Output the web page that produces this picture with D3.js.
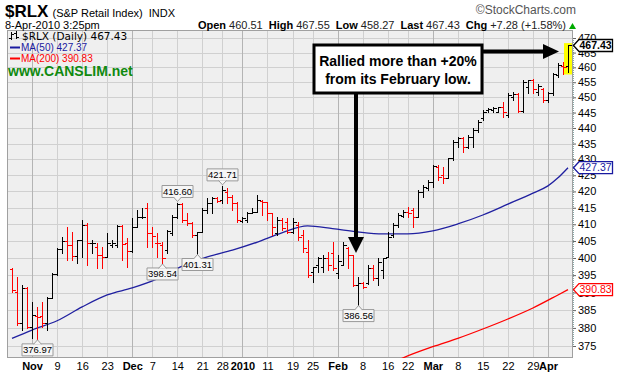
<!DOCTYPE html>
<html>
<head>
<meta charset="utf-8">
<script src="https://cdn.jsdelivr.net/npm/d3@7"></script>
<style>
  body { margin: 0; background: #fff; overflow: hidden; }
</style>
</head>
<body>
<div id="chart"></div>
<script>
// $RLX daily OHLC, 27-Oct-2009 .. 8-Apr-2010
const dates = [
  "2009-10-27","2009-10-28","2009-10-29","2009-10-30",
  "2009-11-02","2009-11-03","2009-11-04","2009-11-05","2009-11-06",
  "2009-11-09","2009-11-10","2009-11-11","2009-11-12","2009-11-13",
  "2009-11-16","2009-11-17","2009-11-18","2009-11-19","2009-11-20",
  "2009-11-23","2009-11-24","2009-11-25","2009-11-27","2009-11-30",
  "2009-12-01","2009-12-02","2009-12-03","2009-12-04",
  "2009-12-07","2009-12-08","2009-12-09","2009-12-10","2009-12-11",
  "2009-12-14","2009-12-15","2009-12-16","2009-12-17","2009-12-18",
  "2009-12-21","2009-12-22","2009-12-23","2009-12-24",
  "2009-12-28","2009-12-29","2009-12-30","2009-12-31",
  "2010-01-04","2010-01-05","2010-01-06","2010-01-07","2010-01-08",
  "2010-01-11","2010-01-12","2010-01-13","2010-01-14","2010-01-15",
  "2010-01-19","2010-01-20","2010-01-21","2010-01-22",
  "2010-01-25","2010-01-26","2010-01-27","2010-01-28","2010-01-29",
  "2010-02-01","2010-02-02","2010-02-03","2010-02-04","2010-02-05",
  "2010-02-08","2010-02-09","2010-02-10","2010-02-11","2010-02-12",
  "2010-02-16","2010-02-17","2010-02-18","2010-02-19",
  "2010-02-22","2010-02-23","2010-02-24","2010-02-25","2010-02-26",
  "2010-03-01","2010-03-02","2010-03-03","2010-03-04","2010-03-05",
  "2010-03-08","2010-03-09","2010-03-10","2010-03-11","2010-03-12",
  "2010-03-15","2010-03-16","2010-03-17","2010-03-18","2010-03-19",
  "2010-03-22","2010-03-23","2010-03-24","2010-03-25","2010-03-26",
  "2010-03-29","2010-03-30","2010-03-31",
  "2010-04-01","2010-04-05","2010-04-06","2010-04-07","2010-04-08"
]

const opens = [
  396.7, 390.2, 381.3, 391.2,
  380.3, 383.4, 383.3, 381.3, 388.5,
  395.3, 402.7, 405.0, 403.8, 400.6,
  405.3, 409.8, 404.3, 403.3, 400.9,
  400.4, 403.8, 403.8, 409.5, 404.3,
  402.1, 409.3, 412.1, 414.8,
  407.3, 404.3, 403.8, 402.3, 407.4,
  412.3, 416.1, 411.3, 410.4, 406.8,
  407.8, 414.3, 416.3, 417.9,
  417.4, 419.9, 418.4, 416.3,
  411.0, 411.3, 413.5, 413.8, 417.1,
  416.7, 413.3, 407.3, 411.3, 410.8,
  407.8, 409.8, 406.8, 401.8,
  396.0, 397.9, 397.5, 399.9, 401.4,
  395.5, 397.9, 402.9, 400.9, 392.2,
  392.6, 392.7, 397.0, 394.2, 396.5,
  400.4, 406.8, 409.8, 412.5,
  413.8, 414.3, 412.3, 419.9, 421.0,
  422.8, 427.7, 425.1, 424.1, 430.3,
  435.6, 436.7, 434.0, 437.0, 439.4,
  443.1, 445.8, 445.8, 445.3, 446.9,
  444.2, 450.1, 451.1, 445.6, 453.4,
  455.6, 451.8, 452.9,
  449.1, 451.3, 457.4, 460.5, 460.51
]

const highs = [
  397.0, 394.6, 392.2, 391.6,
  387.4, 386.0, 387.4, 388.8, 395.5,
  403.0, 406.3, 409.3, 407.8, 405.3,
  411.3, 410.5, 405.3, 404.3, 403.3,
  407.3, 405.3, 409.8, 409.8, 405.8,
  411.8, 414.3, 414.8, 416.3,
  409.3, 407.3, 404.8, 408.3, 412.8,
  416.60, 416.4, 413.4, 410.7, 407.8,
  414.8, 417.9, 418.4, 418.4,
  421.71, 421.0, 418.9, 416.8,
  412.3, 413.8, 414.8, 418.9, 417.4,
  416.8, 413.5, 412.3, 411.8, 411.8,
  411.8, 410.8, 408.3, 405.3,
  397.5, 400.4, 400.9, 401.8, 404.8,
  401.0, 404.8, 403.3, 401.0, 394.6,
  393.0, 397.9, 397.9, 399.9, 400.0,
  407.8, 410.3, 413.3, 414.3,
  415.3, 414.8, 420.4, 422.0, 423.5,
  428.2, 428.2, 427.7, 430.5, 436.1,
  437.2, 437.2, 437.7, 439.9, 442.6,
  445.8, 446.4, 446.9, 446.9, 448.6,
  451.3, 451.8, 451.3, 455.8, 455.8,
  456.1, 454.5, 453.2,
  451.8, 458.0, 461.5, 461.9, 467.55
]

const lows = [
  390.2, 380.8, 379.4, 379.9,
  377.1, 376.97, 380.3, 379.4, 388.3,
  395.0, 401.4, 399.4, 399.4, 398.4,
  400.4, 397.9, 401.4, 397.0, 397.0,
  400.4, 403.3, 403.3, 399.4, 397.3,
  401.8, 409.3, 411.8, 403.3,
  403.3, 400.4, 398.54, 401.4, 406.8,
  411.9, 410.8, 409.8, 406.3, 401.31,
  407.8, 413.3, 413.3, 416.8,
  416.3, 416.3, 414.3, 410.8,
  410.7, 410.8, 413.3, 413.8, 412.8,
  411.3, 406.8, 406.8, 408.3, 407.3,
  407.3, 405.3, 401.8, 394.6,
  393.1, 396.0, 396.0, 396.5, 396.5,
  394.3, 397.8, 397.0, 391.9, 386.56,
  391.3, 392.4, 393.6, 392.2, 394.2,
  400.4, 406.3, 409.3, 412.3,
  412.3, 409.3, 412.3, 418.4, 420.4,
  421.5, 423.5, 422.5, 424.1, 429.8,
  434.0, 432.4, 433.5, 434.0, 438.8,
  442.6, 445.3, 445.3, 445.3, 443.7,
  443.7, 449.1, 445.3, 445.3, 451.3,
  451.3, 450.8, 448.5,
  448.5, 450.8, 456.9, 457.6, 458.27
]

const closes = [
  390.8, 381.4, 391.2, 380.3,
  383.6, 383.1, 381.3, 388.5, 395.2,
  402.7, 405.0, 403.8, 400.6, 405.2,
  409.8, 404.3, 404.5, 400.9, 400.4,
  404.3, 404.5, 409.5, 404.0, 402.1,
  409.3, 412.1, 412.2, 407.3,
  406.5, 404.3, 400.0, 408.0, 412.3,
  416.1, 411.3, 410.3, 406.8, 407.8,
  414.3, 416.3, 417.9, 417.2,
  420.4, 418.4, 416.3, 411.3,
  411.9, 413.3, 413.8, 417.4, 416.7,
  413.3, 409.3, 411.3, 408.8, 407.8,
  410.8, 406.3, 402.8, 395.0,
  397.5, 399.9, 400.1, 397.9, 397.0,
  399.0, 403.8, 400.9, 392.1, 392.6,
  391.7, 397.0, 394.2, 398.8, 399.9,
  406.3, 409.8, 412.8, 413.8,
  413.5, 412.3, 419.9, 421.5, 423.0,
  428.0, 424.6, 424.3, 430.3, 435.6,
  436.7, 434.0, 437.2, 439.4, 442.0,
  445.3, 446.1, 446.4, 446.7, 445.3,
  450.8, 451.1, 445.6, 455.2, 455.6,
  452.8, 453.7, 449.1,
  451.3, 457.7, 460.9, 460.15, 467.43
]

// moving averages, read at weekly points
const ma50Dates = ["2009-10-27","2009-11-02","2009-11-09","2009-11-16","2009-11-23","2009-12-01",
  "2009-12-08","2009-12-15","2009-12-22","2009-12-30","2010-01-07","2010-01-14","2010-01-22",
  "2010-01-29","2010-02-05","2010-02-12","2010-02-22","2010-03-01","2010-03-08","2010-03-15",
  "2010-03-22","2010-03-29","2010-04-01","2010-04-06","2010-04-08"]
const ma50Values = [377.1, 379.4, 382.0, 385.9, 389.3, 391.3,
  393.9, 397.6, 400.3, 402.3, 404.7, 407.5, 409.5,
  408.7, 407.7, 407.1, 407.1, 408.0, 410.1, 412.8,
  416.1, 419.5, 421.7, 424.2, 427.37]

const ma200Dates = ["2010-02-12","2010-02-19","2010-03-01","2010-03-08","2010-03-15",
  "2010-03-22","2010-03-29","2010-04-06","2010-04-08"]
const ma200Values = [369.1, 371.7, 374.8, 377.1, 379.7, 382.5, 385.6, 389.3, 390.83]

const yTicks = [375, 380, 385, 390, 395, 400, 405, 410, 415, 420, 425, 430, 435, 440, 445, 450, 455, 460, 465, 470]

const xTickDates = ["2009-11-02","2009-11-09","2009-11-16","2009-11-23","2009-12-01","2009-12-07",
  "2009-12-14","2009-12-21","2009-12-28","2010-01-04","2010-01-11","2010-01-19","2010-01-25",
  "2010-02-01","2010-02-08","2010-02-16","2010-02-22","2010-03-01","2010-03-08","2010-03-15",
  "2010-03-22","2010-03-29","2010-04-01"]
const xTickLabels = ["Nov","9","16","23","Dec","7","14","21","28","2010","11","19","25",
  "Feb","8","16","22","Mar","8","15","22","29","Apr"]

// labelled highs / lows
const noteDates = ["2009-11-03","2009-12-09","2009-12-14","2009-12-18","2009-12-28","2010-02-05"]
const noteValues = [376.97, 398.54, 416.60, 401.31, 421.71, 386.56]
const noteSides = ["low","low","high","low","high","low"]

const W = 619, H = 375
const plot = { left: 7, right: 573, top: 30, bottom: 358 }
const isMonth = i => isNaN(+xTickLabels[i]) || xTickLabels[i] == "2010"

const svg = d3.select("#chart").append("svg")
  .attr("width", W)
  .attr("height", H)
  .attr("font-family", "Arial, 'Liberation Sans', sans-serif")

svg.append("rect").attr("width", W).attr("height", H).attr("fill", "#fff")

svg.append("rect")
  .attr("x", plot.left).attr("y", plot.top)
  .attr("width", plot.right - plot.left).attr("height", plot.bottom - plot.top)
  .attr("fill", "#efefef")

svg.append("clipPath").attr("id", "plotclip")
  .append("rect")
  .attr("x", plot.left).attr("y", plot.top)
  .attr("width", plot.right - plot.left).attr("height", plot.bottom - plot.top)

const x = d3.scalePoint().domain(dates).range([plot.left, plot.right]).padding(1)
const y = d3.scaleLog().domain([375, 470]).range([346, 38])

const px = d => Math.round(x(d)) + 0.5
const py = v => Math.round(y(v)) + 0.5

// grid
const grid = svg.append("g").attr("shape-rendering", "crispEdges")
grid.selectAll(".hg").data(yTicks).enter().append("line")
  .attr("x1", plot.left).attr("x2", plot.right)
  .attr("y1", d => py(d)).attr("y2", d => py(d))
  .attr("stroke", "#d0d0d0")
grid.selectAll(".vg").data(xTickDates).enter().append("line")
  .attr("x1", d => px(d)).attr("x2", d => px(d))
  .attr("y1", plot.top).attr("y2", plot.bottom)
  .attr("stroke", (d, i) => isMonth(i) ? "#b4b4b4" : "#d0d0d0")

// frame
svg.append("rect")
  .attr("x", plot.left + 0.5).attr("y", plot.top + 0.5)
  .attr("width", plot.right - plot.left - 1).attr("height", plot.bottom - plot.top - 1)
  .attr("fill", "none").attr("stroke", "#a0a0a0")
  .attr("shape-rendering", "crispEdges")

// right axis
const yAxis = svg.append("g")
  .attr("transform", "translate(" + plot.right + ",0)")
  .call(d3.axisRight(y).tickValues(yTicks).tickSize(3).tickPadding(2).tickFormat(d3.format("d")))
yAxis.select(".domain").attr("stroke", "#8aa").attr("stroke-dasharray", "1,1")
yAxis.selectAll(".tick line").attr("stroke", "#666")
yAxis.selectAll("text").attr("font-size", "11px").attr("fill", "#000")
  .attr("font-family", "Arial, 'Liberation Sans', sans-serif")

// bottom axis
const xAxis = svg.append("g")
  .attr("transform", "translate(0," + plot.bottom + ")")
  .call(d3.axisBottom(x).tickValues(xTickDates).tickSize(0).tickPadding(4)
    .tickFormat((d, i) => xTickLabels[i]))
xAxis.select(".domain").remove()
xAxis.selectAll("text")
  .attr("font-size", "11px").attr("fill", "#000")
  .attr("font-family", "Arial, 'Liberation Sans', sans-serif")
  .attr("font-weight", (d, i) => isMonth(i) ? "bold" : "normal")

// moving averages
const chartArea = svg.append("g").attr("clip-path", "url(#plotclip)")
const maLine = d3.line()
  .x(d => x(d[0]))
  .y(d => y(d[1]))
  .curve(d3.curveMonotoneX)

chartArea.append("path")
  .datum(ma50Dates.map((d, i) => [d, ma50Values[i]]))
  .attr("d", maLine)
  .attr("fill", "none").attr("stroke", "#2020a0").attr("stroke-width", 1.3)

chartArea.append("path")
  .datum(ma200Dates.map((d, i) => [d, ma200Values[i]]))
  .attr("d", maLine)
  .attr("fill", "none").attr("stroke", "#ff0000").attr("stroke-width", 1.3)

// highlight of the latest bar
const last = dates.length - 1
chartArea.append("rect")
  .attr("x", px(dates[last]) - 4.5).attr("width", 8)
  .attr("y", y(highs[last]) - 2).attr("height", y(lows[last]) - y(highs[last]) + 4)
  .attr("fill", "#ffff00")

// OHLC bars
const bars = dates.map((d, i) => ({
  date: d, o: opens[i], h: highs[i], l: lows[i], c: closes[i],
  up: i == 0 ? closes[i] >= opens[i] : closes[i] >= closes[i - 1]
}))

chartArea.selectAll(".bar")
  .data(bars)
  .enter()
  .append("path")
  .attr("d", b => {
    let bx = px(b.date)
    return "M" + bx + "," + (py(b.h) - 0.5) + "V" + (py(b.l) + 0.5) +
      "M" + (bx - 3) + "," + py(b.o) + "H" + bx +
      "M" + bx + "," + py(b.c) + "H" + (bx + 3)
  })
  .attr("fill", "none")
  .attr("stroke", b => b.up ? "#000" : "#ff0000")
  .attr("stroke-width", 1)
  .attr("shape-rendering", "crispEdges")

// labelled highs and lows
const notes = svg.append("g")
noteDates.forEach((d, i) => {
  let nx = Math.round(x(d)) + 0.5
  let ny = y(noteValues[i])
  let bw = 31, bh = 12
  let top = noteSides[i] == "low" ? ny + 5 : ny - 5 - bh
  let tipY = noteSides[i] == "low" ? ny + 1 : ny - 1
  let baseY = noteSides[i] == "low" ? top + 0.5 : top + bh - 0.5
  notes.append("path")
    .attr("d", "M" + (nx - bw / 2) + "," + top + "h" + bw + "v" + bh + "h" + (-bw) + "Z")
    .attr("fill", "#f6f6f6").attr("stroke", "#9a9a9a")
  notes.append("path")
    .attr("d", "M" + (nx - 4) + "," + baseY + "L" + nx + "," + tipY + "L" + (nx + 4) + "," + baseY)
    .attr("fill", "#f6f6f6").attr("stroke", "#9a9a9a")
  notes.append("text")
    .attr("x", nx).attr("y", top + bh - 2.5)
    .attr("text-anchor", "middle")
    .attr("font-size", "9.5px")
    .attr("fill", "#000")
    .text(noteValues[i].toFixed(2))
})

// value tags on the right axis
function axisTag(value, stroke, color, bold) {
  let ty = y(value)
  let g = svg.append("g")
  g.append("path")
    .attr("d", "M" + (plot.right + 0.5) + "," + ty + "L" + (plot.right + 6) + "," + (ty - 6) +
      "H" + 612.5 + "V" + (ty + 6) + "H" + (plot.right + 6) + "Z")
    .attr("fill", "#fff").attr("stroke", stroke).attr("stroke-width", 1.3)
  g.append("text")
    .attr("x", plot.right + 6.5).attr("y", ty + 3.8)
    .attr("font-size", "10.5px")
    .attr("font-weight", bold ? "bold" : "normal")
    .attr("fill", color)
    .text(value.toFixed(2))
}
axisTag(closes[last], "#000", "#000", true)
axisTag(ma50Values[ma50Values.length - 1], "#1a1aa0", "#1a1aa0", false)
axisTag(ma200Values[ma200Values.length - 1], "#ff0000", "#ff0000", false)

// header
const head = svg.append("text").attr("x", 5).attr("y", 17)
head.append("tspan").attr("font-size", "17px").attr("font-weight", "bold").text("$RLX")
head.append("tspan").attr("font-size", "11px").attr("dx", 4).text("(S&P Retail Index)")
head.append("tspan").attr("font-size", "11px").attr("dx", 6).text("INDX")

svg.append("text")
  .attr("x", 576).attr("y", 14).attr("text-anchor", "end")
  .attr("font-size", "12px").attr("fill", "#555")
  .text("\u00A9StockCharts.com")

svg.append("text")
  .attr("x", 5).attr("y", 29)
  .attr("font-size", "11px")
  .text("8-Apr-2010 3:25pm")

const quote = svg.append("text")
  .attr("x", 566).attr("y", 29).attr("text-anchor", "end")
  .attr("font-size", "11px")
const quoteParts = [["Open", "460.51"], ["High", "467.55"], ["Low", "458.27"], ["Last", "467.43"], ["Chg", "+7.28 (+1.58%)"]]
quoteParts.forEach((p, i) => {
  quote.append("tspan").attr("font-weight", "bold").attr("dx", i == 0 ? 0 : 6).text(p[0])
  quote.append("tspan").attr("dx", 3).attr("fill", "#222").text(p[1])
})
svg.append("path")
  .attr("d", "M569,29 L576,29 L572.5,23 Z")
  .attr("fill", "#00aa00")

// legend
const legend = svg.append("g")
legend.append("path")
  .attr("d", "M11.5,32V40M9,38H11.5M11.5,34H14 M16.5,31V39M14,33H16.5M16.5,37H19")
  .attr("stroke", "#000").attr("fill", "none").attr("shape-rendering", "crispEdges")
legend.append("text")
  .attr("x", 22).attr("y", 40)
  .attr("font-size", "10.5px")
  .attr("font-family", "'DejaVu Sans', Verdana, sans-serif")
  .text("$RLX (Daily) 467.43")
legend.append("line")
  .attr("x1", 10).attr("x2", 20).attr("y1", 47.5).attr("y2", 47.5)
  .attr("stroke", "#1a1aa0").attr("stroke-width", 2)
legend.append("text")
  .attr("x", 21).attr("y", 51)
  .attr("font-size", "10px").attr("fill", "#1a1aa0")
  .text("MA(50) " + ma50Values[ma50Values.length - 1].toFixed(2))
legend.append("line")
  .attr("x1", 10).attr("x2", 20).attr("y1", 58.5).attr("y2", 58.5)
  .attr("stroke", "#ff0000").attr("stroke-width", 2)
legend.append("text")
  .attr("x", 21).attr("y", 62)
  .attr("font-size", "10px").attr("fill", "#ff0000")
  .text("MA(200) " + ma200Values[ma200Values.length - 1].toFixed(2))
legend.append("text")
  .attr("x", 8).attr("y", 76)
  .attr("font-size", "14px").attr("font-weight", "bold")
  .attr("fill", "#108a10")
  .text("www.CANSLIM.net")

// annotation box and arrows
const note = svg.append("g")
note.append("rect")
  .attr("x", 314).attr("y", 45).attr("width", 168).attr("height", 48)
  .attr("fill", "#fff").attr("stroke", "#000").attr("stroke-width", 3)
note.append("text")
  .attr("x", 398).attr("y", 66).attr("text-anchor", "middle")
  .attr("font-size", "14px").attr("font-weight", "bold")
  .text("Rallied more than +20%")
note.append("text")
  .attr("x", 398).attr("y", 84).attr("text-anchor", "middle")
  .attr("font-size", "14px").attr("font-weight", "bold")
  .text("from its February low.")
note.append("line")
  .attr("x1", 356).attr("x2", 356).attr("y1", 94).attr("y2", 239)
  .attr("stroke", "#000").attr("stroke-width", 4)
note.append("path")
  .attr("d", "M348,237 L364,237 L356,253 Z")
  .attr("fill", "#000")
note.append("line")
  .attr("x1", 483).attr("x2", 545).attr("y1", 51.5).attr("y2", 51.5)
  .attr("stroke", "#000").attr("stroke-width", 4)
note.append("path")
  .attr("d", "M543,44 L559,51.5 L543,59 Z")
  .attr("fill", "#000")
</script>
</body>
</html>
